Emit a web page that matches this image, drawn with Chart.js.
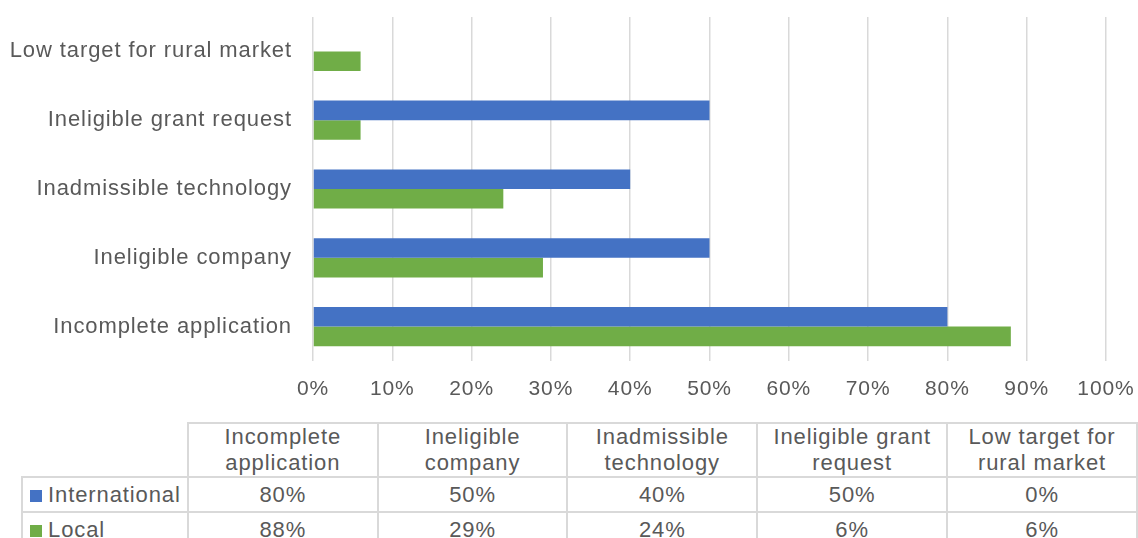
<!DOCTYPE html>
<html>
<head>
<meta charset="utf-8">
<script src="https://cdn.jsdelivr.net/npm/chart.js@4"></script>
<style>
  html, body { margin: 0; padding: 0; background: #fff; }
  #wrap { position: relative; width: 1138px; height: 538px; overflow: hidden; }
  #chart { position: absolute; left: 0; top: 0; }
  #dataTable {
    position: absolute; left: 21px; top: 422px;
    border-collapse: collapse; table-layout: fixed;
    font-family: "Liberation Sans", Arial, sans-serif; font-size: 22px; letter-spacing: 0.9px; color: #595959;
  }
  #dataTable td { border: 2px solid #d9d9d9; padding: 0; text-align: center; white-space: nowrap; }
  #dataTable td.corner { border-top: none; border-left: none; }
  #dataTable tr.head td { height: 52px; line-height: 26px; }
  #dataTable tr.row td { height: 33px; line-height: 33px; }
  #dataTable td.key { text-align: left; padding-left: 7px; }
  .swatch { display: inline-block; width: 12px; height: 12px; margin-right: 6px; vertical-align: 0px; }
</style>
</head>
<body>
<div id="wrap">
  <canvas id="chart" width="1138" height="410"></canvas>
  <table id="dataTable"></table>
</div>
<script>
// categories in table order (bottom-to-top in the bar chart)
const categories = ['Incomplete application', 'Ineligible company', 'Inadmissible technology', 'Ineligible grant request', 'Low target for rural market'];
const headerLines = [['Incomplete', 'application'], ['Ineligible', 'company'], ['Inadmissible', 'technology'], ['Ineligible grant', 'request'], ['Low target for', 'rural market']];
const international = [80, 50, 40, 50, 0];
const local = [88, 29, 24, 6, 6];
const seriesNames = ['International', 'Local'];
const seriesColors = ['#4472C4', '#70AD47'];
const xTicks = [0, 10, 20, 30, 40, 50, 60, 70, 80, 90, 100];

const textColor = '#595959';
const fontFamily = '"Liberation Sans", Arial, sans-serif';

// build the data table under the chart
function buildTable() {
    const table = document.getElementById('dataTable');
    let html = '<colgroup><col style="width:166px">';
    categories.forEach(() => { html += '<col style="width:190px">'; });
    html += '</colgroup>';
    html += '<tr class="head"><td class="corner"></td>';
    headerLines.forEach(lines => { html += '<td>' + lines.join('<br>') + '</td>'; });
    html += '</tr>';
    [international, local].forEach((values, i) => {
        html += '<tr class="row"><td class="key"><span class="swatch" style="background:' + seriesColors[i] + '"></span>' + seriesNames[i] + '</td>';
        values.forEach(v => { html += '<td>' + v + '%</td>'; });
        html += '</tr>';
    });
    table.innerHTML = html;
}

// slightly loose letter spacing for the axis text
const spacingPlugin = {
    id: 'letterSpacing',
    beforeUpdate: function(chart) { chart.ctx.letterSpacing = '0.9px'; },
    beforeDraw: function(chart) { chart.ctx.letterSpacing = '0.9px'; }
};

function initializeChart() {
    const ctx = document.getElementById('chart').getContext('2d');
    new Chart(ctx, {
        type: 'bar',
        data: {
            labels: categories,
            datasets: [
                { label: seriesNames[0], data: international, backgroundColor: seriesColors[0] },
                { label: seriesNames[1], data: local, backgroundColor: seriesColors[1] }
            ]
        },
        options: {
            indexAxis: 'y',
            responsive: false,
            animation: false,
            layout: { padding: { top: 17, right: 32, left: 0, bottom: 0 } },
            datasets: { bar: { barPercentage: 1, categoryPercentage: 0.57 } },
            scales: {
                x: {
                    min: 0,
                    max: 100,
                    afterBuildTicks: function(scale) {
                        scale.ticks = xTicks.map(v => ({ value: v }));
                    },
                    afterFit: function(scale) {
                        scale.height = 49;
                        scale.paddingLeft = 0;
                        scale.paddingRight = 0;
                    },
                    grid: { color: '#d9d9d9', lineWidth: 1.5, drawTicks: false },
                    border: { display: false },
                    ticks: {
                        padding: 16,
                        color: textColor,
                        font: { family: fontFamily, size: 21 },
                        callback: function(value) { return value + '%'; }
                    }
                },
                y: {
                    reverse: true,
                    afterFit: function(scale) {
                        scale.width = 313;
                        scale.paddingTop = 0;
                        scale.paddingBottom = 0;
                    },
                    grid: { display: false },
                    border: { display: false },
                    ticks: {
                        padding: 13,
                        color: textColor,
                        font: { family: fontFamily, size: 22 }
                    }
                }
            },
            plugins: {
                legend: { display: false },
                tooltip: { enabled: false }
            }
        },
        plugins: [spacingPlugin]
    });
}

buildTable();
initializeChart();
</script>
</body>
</html>
